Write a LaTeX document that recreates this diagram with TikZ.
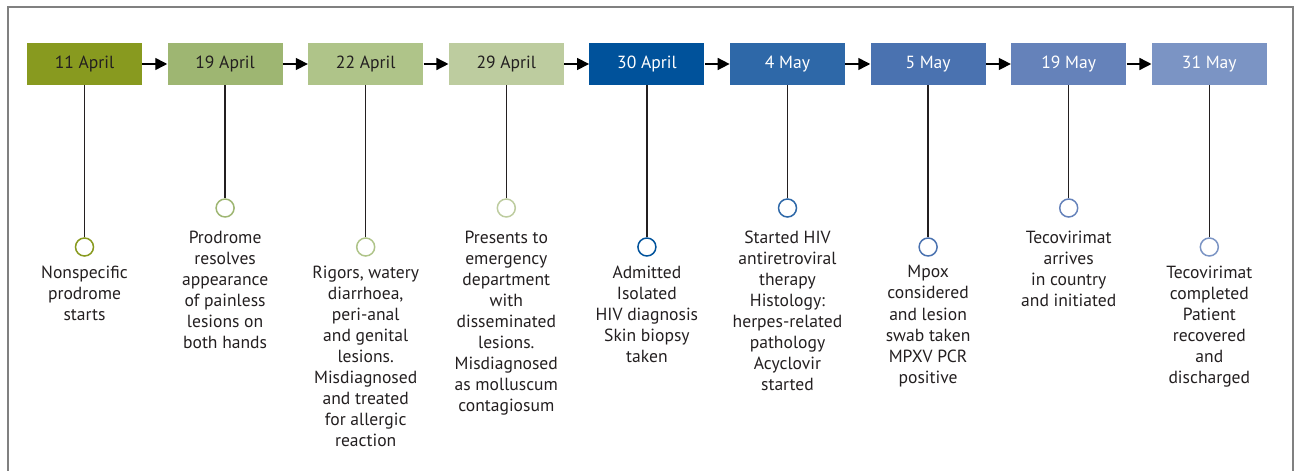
\documentclass[tikz,border=0pt]{standalone}
\usepackage{fontspec}
\setmainfont{PT Sans}
\usepackage{tikz}
\usetikzlibrary{positioning, arrows.meta}
\definecolor{olive1}{RGB}{136,154,31}
\definecolor{olive2}{RGB}{158,182,114}
\definecolor{olive3}{RGB}{175,196,137}
\definecolor{olive4}{RGB}{189,204,159}
\definecolor{blue1}{RGB}{0,82,155}
\definecolor{blue2}{RGB}{46,104,168}
\definecolor{blue3}{RGB}{74,114,176}
\definecolor{blue4}{RGB}{101,130,186}
\definecolor{blue5}{RGB}{123,148,196}
\definecolor{ink}{RGB}{35,31,32}
\tikzset{>={Triangle[length=0.24cm,width=0.24cm]}}
\tikzset{datebox/.style={minimum width=2.3cm, minimum height=0.84cm, inner sep=0pt, font=\fontsize{10}{12}\selectfont}}
\tikzset{dot/.style={circle, draw=#1, fill=white, line width=0.85pt, minimum size=0.36cm, inner sep=0pt}}
\tikzset{event/.style={align=center, inner sep=0pt, text=ink, font=\fontsize{10}{12}\selectfont}}

\begin{document}
\begin{tikzpicture}
		\useasboundingbox (0, 0) rectangle (25.9, -9.42);
		\draw[gray, line width=0.85pt] (0.16, -9.42) -- (0.16, -0.14) -- (25.86, -0.14) -- (25.86, -9.42);

		\begin{scope}[every node/.append style={datebox}]
			\node[fill=olive1, text=ink] (d1) at (1.69, -1.28) {11 April};
			\node[fill=olive2, text=ink] (d2) at (4.502, -1.28) {19 April};
			\node[fill=olive3, text=ink] (d3) at (7.314, -1.28) {22 April};
			\node[fill=olive4, text=ink] (d4) at (10.126, -1.28) {29 April};
			\node[fill=blue1, text=white] (d5) at (12.938, -1.28) {30 April};
			\node[fill=blue2, text=white] (d6) at (15.75, -1.28) {4 May};
			\node[fill=blue3, text=white] (d7) at (18.562, -1.28) {5 May};
			\node[fill=blue4, text=white] (d8) at (21.374, -1.28) {19 May};
			\node[fill=blue5, text=white] (d9) at (24.186, -1.28) {31 May};
		\end{scope}

		\node[dot=olive1] (c1) at (1.69, -4.94) {};
		\node[dot=olive2] (c2) at (4.502, -4.16) {};
		\node[dot=olive3] (c3) at (7.314, -4.94) {};
		\node[dot=olive4] (c4) at (10.126, -4.16) {};
		\node[dot=blue1] (c5) at (12.938, -4.94) {};
		\node[dot=blue2] (c6) at (15.75, -4.16) {};
		\node[dot=blue3] (c7) at (18.562, -4.94) {};
		\node[dot=blue4] (c8) at (21.374, -4.16) {};
		\node[dot=blue5] (c9) at (24.186, -4.94) {};

		\begin{scope}[every node/.append style={event}]
			\node[below=0.17cm of c1] (t1) {Nonspecific\\prodrome\\starts};
			\node[below=0.25cm of c2] (t2) {Prodrome\\resolves\\appearance\\of painless\\lesions on\\both hands};
			\node[below=0.17cm of c3] (t3) {Rigors, watery\\diarrhoea,\\peri-anal\\and genital\\lesions.\\Misdiagnosed\\and treated\\for allergic\\reaction};
			\node[below=0.25cm of c4] (t4) {Presents to\\emergency\\department\\with\\disseminated\\lesions.\\Misdiagnosed\\as molluscum\\contagiosum};
			\node[below=0.17cm of c5] (t5) {Admitted\\Isolated\\HIV diagnosis\\Skin biopsy\\taken};
			\node[below=0.25cm of c6] (t6) {Started HIV\\antiretroviral\\therapy\\Histology:\\herpes-related\\pathology\\Acyclovir\\started};
			\node[below=0.17cm of c7] (t7) {Mpox\\considered\\and lesion\\swab taken\\MPXV PCR\\positive};
			\node[below=0.25cm of c8] (t8) {Tecovirimat\\arrives\\in country\\and initiated};
			\node[below=0.17cm of c9] (t9) {Tecovirimat\\completed\\Patient\\recovered\\and\\discharged};
		\end{scope}

		\foreach \i in {1,...,9}
			\draw[ink, line width=0.85pt] (d\i) -- (c\i);
		\foreach \i/\j in {1/2,2/3,3/4,4/5,5/6,6/7,7/8,8/9}
			\draw[->, line width=0.85pt] (d\i) -- (d\j);
	\end{tikzpicture}
\end{document}
